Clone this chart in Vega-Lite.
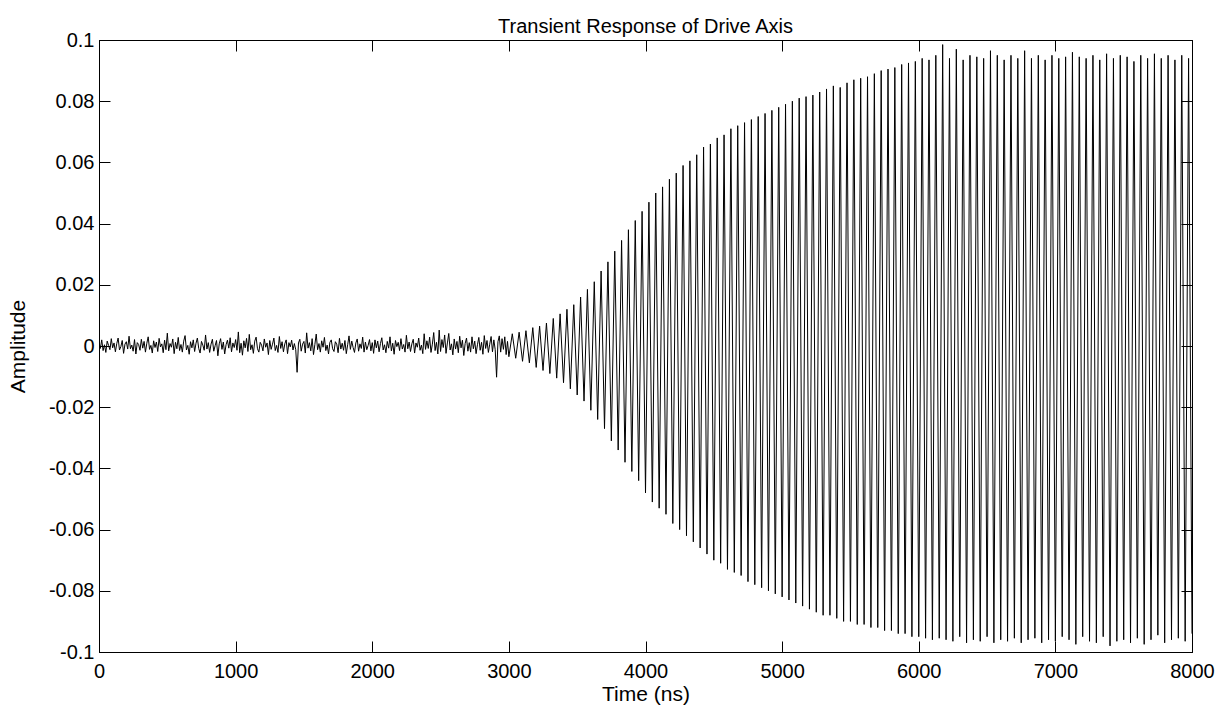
{
  "$schema": "https://vega.github.io/schema/vega-lite/v6.json",
  "width": 1093,
  "height": 612,
  "autosize": {"type": "none"},
  "padding": {"left": 99, "top": 40, "right": 40, "bottom": 56},
  "background": "white",
  "title": {"text": "Transient Response of Drive Axis", "font": "Liberation Sans", "fontSize": 20, "fontWeight": "normal", "color": "black", "anchor": "middle", "baseline": "middle", "offset": 0, "dy": 17},
  "config": {
    "view": {"stroke": "black", "strokeWidth": 1},
    "axis": {"domainColor": "black", "tickColor": "black", "labelColor": "black", "titleColor": "black", "labelFont": "Liberation Sans", "titleFont": "Liberation Sans", "labelFontSize": 20, "titleFontSize": 21, "titleFontWeight": "normal", "grid": false, "tickSize": -11, "domainWidth": 1, "tickWidth": 1}
  },
  "datasets": {
    "noise": [
      {"t":0,"a":0.0012},{"t":10,"a":-0.0008},{"t":20,"a":0.002},{"t":30,"a":-0.0015},{"t":40,"a":0.0004},{"t":50,"a":-0.0021},{"t":60,"a":0.0016},{"t":70,"a":0.0002},{"t":80,"a":-0.0012},{"t":90,"a":0.0024},
      {"t":100,"a":-0.0006},{"t":110,"a":0.001},{"t":120,"a":-0.0019},{"t":130,"a":0.0008},{"t":140,"a":0.0026},{"t":150,"a":-0.0013},{"t":160,"a":-0.0002},{"t":170,"a":0.0018},{"t":180,"a":-0.0024},{"t":190,"a":0.0006},
      {"t":200,"a":0.0014},{"t":210,"a":-0.001},{"t":220,"a":0.0032},{"t":230,"a":-0.0009},{"t":240,"a":0.0003},{"t":250,"a":-0.0017},{"t":260,"a":0.0021},{"t":270,"a":-0.0026},{"t":280,"a":0.0011},{"t":290,"a":0.0005},
      {"t":300,"a":-0.0014},{"t":310,"a":0.0022},{"t":320,"a":-0.0007},{"t":330,"a":0.0015},{"t":340,"a":-0.002},{"t":350,"a":0.0009},{"t":360,"a":0.003},{"t":370,"a":-0.0011},{"t":380,"a":0.0002},{"t":390,"a":-0.0023},
      {"t":400,"a":0.0017},{"t":410,"a":-0.0005},{"t":420,"a":0.0013},{"t":430,"a":-0.0018},{"t":440,"a":0.0025},{"t":450,"a":-0.0003},{"t":460,"a":0.0007},{"t":470,"a":-0.0022},{"t":480,"a":0.0019},{"t":490,"a":-0.0012},
      {"t":500,"a":0.0042},{"t":510,"a":-0.0016},{"t":520,"a":0.0008},{"t":530,"a":-0.0004},{"t":540,"a":0.0023},{"t":550,"a":-0.0025},{"t":560,"a":0.0012},{"t":570,"a":-0.0009},{"t":580,"a":0.0028},{"t":590,"a":-0.0015},
      {"t":600,"a":0.0005},{"t":610,"a":-0.002},{"t":620,"a":0.0016},{"t":630,"a":0.0034},{"t":640,"a":-0.0013},{"t":650,"a":0.0002},{"t":660,"a":-0.0027},{"t":670,"a":0.0014},{"t":680,"a":-0.0006},{"t":690,"a":0.002},
      {"t":700,"a":-0.0018},{"t":710,"a":0.0009},{"t":720,"a":0.0026},{"t":730,"a":-0.0008},{"t":740,"a":-0.0023},{"t":750,"a":0.0015},{"t":760,"a":0.0003},{"t":770,"a":-0.0014},{"t":780,"a":0.0036},{"t":790,"a":-0.001},
      {"t":800,"a":0.0011},{"t":810,"a":-0.0021},{"t":820,"a":0.0006},{"t":830,"a":0.0022},{"t":840,"a":-0.0017},{"t":850,"a":0.0001},{"t":860,"a":0.0018},{"t":870,"a":-0.0032},{"t":880,"a":0.0007},{"t":890,"a":0.0024},
      {"t":900,"a":-0.0011},{"t":910,"a":0.0013},{"t":920,"a":-0.0026},{"t":930,"a":0.0004},{"t":940,"a":0.0019},{"t":950,"a":-0.0007},{"t":960,"a":0.0027},{"t":970,"a":-0.0019},{"t":980,"a":0.001},{"t":990,"a":-0.0005},
      {"t":1000,"a":0.0021},{"t":1010,"a":-0.0014},{"t":1020,"a":0.0046},{"t":1030,"a":-0.0022},{"t":1040,"a":0.0009},{"t":1050,"a":-0.003},{"t":1060,"a":0.0017},{"t":1070,"a":-0.0006},{"t":1080,"a":0.0025},{"t":1090,"a":-0.0018},
      {"t":1100,"a":0.0038},{"t":1110,"a":-0.0012},{"t":1120,"a":0.0004},{"t":1130,"a":-0.0024},{"t":1140,"a":0.0016},{"t":1150,"a":0.0029},{"t":1160,"a":-0.0009},{"t":1170,"a":-0.002},{"t":1180,"a":0.0012},{"t":1190,"a":0.0003},
      {"t":1200,"a":-0.0016},{"t":1210,"a":0.0023},{"t":1220,"a":-0.0004},{"t":1230,"a":0.001},{"t":1240,"a":-0.0028},{"t":1250,"a":0.0018},{"t":1260,"a":-0.0011},{"t":1270,"a":0.0006},{"t":1280,"a":0.0026},{"t":1290,"a":-0.0015},
      {"t":1300,"a":0.0002},{"t":1310,"a":-0.0021},{"t":1320,"a":0.0031},{"t":1330,"a":-0.0008},{"t":1340,"a":0.0014},{"t":1350,"a":-0.0019},{"t":1360,"a":0.0007},{"t":1370,"a":0.002},{"t":1380,"a":-0.0025},{"t":1390,"a":0.0011},
      {"t":1400,"a":-0.0003},{"t":1410,"a":0.0019},{"t":1420,"a":-0.0013},{"t":1430,"a":0.0008},{"t":1440,"a":-0.0012},{"t":1450,"a":-0.0086},{"t":1460,"a":0.001},{"t":1470,"a":0.0022},{"t":1480,"a":-0.0017},{"t":1490,"a":0.0006},
      {"t":1500,"a":0.0015},{"t":1510,"a":-0.0023},{"t":1520,"a":0.0043},{"t":1530,"a":-0.0007},{"t":1540,"a":0.0011},{"t":1550,"a":-0.0016},{"t":1560,"a":0.0024},{"t":1570,"a":-0.0028},{"t":1580,"a":0.0005},{"t":1590,"a":0.0039},
      {"t":1600,"a":-0.0012},{"t":1610,"a":0.0008},{"t":1620,"a":-0.002},{"t":1630,"a":0.0017},{"t":1640,"a":-0.0004},{"t":1650,"a":0.0028},{"t":1660,"a":-0.0015},{"t":1670,"a":0.0003},{"t":1680,"a":-0.0026},{"t":1690,"a":0.0012},
      {"t":1700,"a":0.002},{"t":1710,"a":-0.0009},{"t":1720,"a":-0.0018},{"t":1730,"a":0.0014},{"t":1740,"a":0.0006},{"t":1750,"a":-0.0022},{"t":1760,"a":0.0025},{"t":1770,"a":-0.001},{"t":1780,"a":0.0009},{"t":1790,"a":-0.0014},
      {"t":1800,"a":0.0018},{"t":1810,"a":-0.0025},{"t":1820,"a":0.0004},{"t":1830,"a":0.0033},{"t":1840,"a":-0.0011},{"t":1850,"a":0.0016},{"t":1860,"a":-0.0005},{"t":1870,"a":-0.0021},{"t":1880,"a":0.001},{"t":1890,"a":0.0023},
      {"t":1900,"a":-0.0017},{"t":1910,"a":0.0007},{"t":1920,"a":-0.0008},{"t":1930,"a":0.0029},{"t":1940,"a":-0.002},{"t":1950,"a":0.0013},{"t":1960,"a":-0.0012},{"t":1970,"a":0.0002},{"t":1980,"a":0.0021},{"t":1990,"a":-0.0016},
      {"t":2000,"a":0.0011},{"t":2010,"a":-0.0024},{"t":2020,"a":0.002},{"t":2030,"a":-0.0006},{"t":2040,"a":0.0016},{"t":2050,"a":-0.0019},{"t":2060,"a":0.0008},{"t":2070,"a":0.0027},{"t":2080,"a":-0.0013},{"t":2090,"a":0.0004},
      {"t":2100,"a":-0.0022},{"t":2110,"a":0.0015},{"t":2120,"a":-0.0007},{"t":2130,"a":0.003},{"t":2140,"a":-0.0016},{"t":2150,"a":0.0009},{"t":2160,"a":-0.0027},{"t":2170,"a":0.0018},{"t":2180,"a":-0.0002},{"t":2190,"a":0.0012},
      {"t":2200,"a":-0.0015},{"t":2210,"a":0.0024},{"t":2220,"a":-0.001},{"t":2230,"a":0.0005},{"t":2240,"a":-0.002},{"t":2250,"a":0.0035},{"t":2260,"a":-0.0009},{"t":2270,"a":0.0013},{"t":2280,"a":-0.0018},{"t":2290,"a":0.0007},
      {"t":2300,"a":0.0022},{"t":2310,"a":-0.0023},{"t":2320,"a":0.001},{"t":2330,"a":-0.0004},{"t":2340,"a":0.0026},{"t":2350,"a":-0.0014},{"t":2360,"a":0.0003},{"t":2370,"a":-0.0025},{"t":2380,"a":0.004},{"t":2390,"a":-0.0011},
      {"t":2400,"a":0.0017},{"t":2410,"a":-0.0008},{"t":2420,"a":0.0029},{"t":2430,"a":-0.0021},{"t":2440,"a":0.0006},{"t":2450,"a":0.0044},{"t":2460,"a":-0.0015},{"t":2470,"a":0.0012},{"t":2480,"a":-0.0026},{"t":2490,"a":0.0052},
      {"t":2500,"a":-0.0018},{"t":2510,"a":0.0021},{"t":2520,"a":-0.0005},{"t":2530,"a":0.0036},{"t":2540,"a":-0.0024},{"t":2550,"a":0.001},{"t":2560,"a":0.0041},{"t":2570,"a":-0.0013},{"t":2580,"a":0.0007},{"t":2590,"a":-0.0029},
      {"t":2600,"a":0.0023},{"t":2610,"a":-0.001},{"t":2620,"a":0.0015},{"t":2630,"a":-0.0022},{"t":2640,"a":0.0032},{"t":2650,"a":-0.0006},{"t":2660,"a":0.0019},{"t":2670,"a":-0.0031},{"t":2680,"a":0.0008},{"t":2690,"a":0.0026},
      {"t":2700,"a":-0.0017},{"t":2710,"a":0.0011},{"t":2720,"a":-0.002},{"t":2730,"a":0.003},{"t":2740,"a":-0.0009},{"t":2750,"a":0.0016},{"t":2760,"a":-0.0025},{"t":2770,"a":0.0004},{"t":2780,"a":0.0028},{"t":2790,"a":-0.0014},
      {"t":2800,"a":0.0012},{"t":2810,"a":-0.0027},{"t":2820,"a":0.0034},{"t":2830,"a":-0.0008},{"t":2840,"a":0.0018},{"t":2850,"a":-0.0021},{"t":2860,"a":0.0006},{"t":2870,"a":0.0031},{"t":2880,"a":-0.0019},{"t":2890,"a":0.002},
      {"t":2900,"a":-0.0012},{"t":2910,"a":-0.0102},{"t":2920,"a":0.0014},{"t":2930,"a":0.0033},{"t":2940,"a":-0.002},{"t":2950,"a":0.0024},{"t":2960,"a":-0.0011},{"t":2970,"a":0.003},{"t":2980,"a":-0.0028},{"t":2990,"a":0.0015}
    ],
    "osc": [
      {"t":2990,"a":0.0015},
      {"t":3000,"a":-0.0035},{"t":3025,"a":0.004},{"t":3050,"a":-0.004},{"t":3075,"a":0.0045},{"t":3100,"a":-0.005},{"t":3125,"a":0.005},{"t":3150,"a":-0.0055},{"t":3175,"a":0.006},
      {"t":3200,"a":-0.007},{"t":3225,"a":0.0065},{"t":3250,"a":-0.008},{"t":3275,"a":0.0075},{"t":3300,"a":-0.009},{"t":3325,"a":0.009},{"t":3350,"a":-0.0105},{"t":3375,"a":0.0105},
      {"t":3400,"a":-0.012},{"t":3425,"a":0.012},{"t":3450,"a":-0.014},{"t":3475,"a":0.0135},{"t":3500,"a":-0.016},{"t":3525,"a":0.016},{"t":3550,"a":-0.018},{"t":3575,"a":0.0185},
      {"t":3600,"a":-0.021},{"t":3625,"a":0.021},{"t":3650,"a":-0.024},{"t":3675,"a":0.0245},{"t":3700,"a":-0.027},{"t":3725,"a":0.0275},{"t":3750,"a":-0.031},{"t":3775,"a":0.031},
      {"t":3800,"a":-0.034},{"t":3825,"a":0.0345},{"t":3850,"a":-0.038},{"t":3875,"a":0.038},{"t":3900,"a":-0.041},{"t":3925,"a":0.041},{"t":3950,"a":-0.044},{"t":3975,"a":0.044},
      {"t":4000,"a":-0.048},{"t":4025,"a":0.047},{"t":4050,"a":-0.051},{"t":4075,"a":0.05},{"t":4100,"a":-0.053},{"t":4125,"a":0.052},{"t":4150,"a":-0.055},{"t":4175,"a":0.0545},
      {"t":4200,"a":-0.058},{"t":4225,"a":0.0565},{"t":4250,"a":-0.06},{"t":4275,"a":0.059},{"t":4300,"a":-0.062},{"t":4325,"a":0.0605},{"t":4350,"a":-0.064},{"t":4375,"a":0.0625},
      {"t":4400,"a":-0.066},{"t":4425,"a":0.065},{"t":4450,"a":-0.068},{"t":4475,"a":0.066},{"t":4500,"a":-0.07},{"t":4525,"a":0.068},{"t":4550,"a":-0.071},{"t":4575,"a":0.069},
      {"t":4600,"a":-0.073},{"t":4625,"a":0.071},{"t":4650,"a":-0.074},{"t":4675,"a":0.072},{"t":4700,"a":-0.075},{"t":4725,"a":0.073},{"t":4750,"a":-0.077},{"t":4775,"a":0.074},
      {"t":4800,"a":-0.078},{"t":4825,"a":0.075},{"t":4850,"a":-0.079},{"t":4875,"a":0.076},{"t":4900,"a":-0.08},{"t":4925,"a":0.077},{"t":4950,"a":-0.081},{"t":4975,"a":0.078},
      {"t":5000,"a":-0.082},{"t":5025,"a":0.079},{"t":5050,"a":-0.083},{"t":5075,"a":0.08},{"t":5100,"a":-0.084},{"t":5125,"a":0.081},{"t":5150,"a":-0.085},{"t":5175,"a":0.0815},
      {"t":5200,"a":-0.086},{"t":5225,"a":0.082},{"t":5250,"a":-0.087},{"t":5275,"a":0.083},{"t":5300,"a":-0.088},{"t":5325,"a":0.084},{"t":5350,"a":-0.088},{"t":5375,"a":0.085},
      {"t":5400,"a":-0.089},{"t":5425,"a":0.0845},{"t":5450,"a":-0.09},{"t":5475,"a":0.086},{"t":5500,"a":-0.09},{"t":5525,"a":0.087},{"t":5550,"a":-0.091},{"t":5575,"a":0.0875},
      {"t":5600,"a":-0.091},{"t":5625,"a":0.088},{"t":5650,"a":-0.092},{"t":5675,"a":0.089},{"t":5700,"a":-0.092},{"t":5725,"a":0.09},{"t":5750,"a":-0.093},{"t":5775,"a":0.0905},
      {"t":5800,"a":-0.093},{"t":5825,"a":0.091},{"t":5850,"a":-0.094},{"t":5875,"a":0.092},{"t":5900,"a":-0.094},{"t":5925,"a":0.0925},{"t":5950,"a":-0.095},{"t":5975,"a":0.093},
      {"t":6000,"a":-0.095},{"t":6025,"a":0.094},{"t":6050,"a":-0.0955},{"t":6075,"a":0.0935},{"t":6100,"a":-0.096},{"t":6125,"a":0.095},{"t":6150,"a":-0.0955},{"t":6175,"a":0.0985},
      {"t":6200,"a":-0.096},{"t":6225,"a":0.094},{"t":6250,"a":-0.0965},{"t":6275,"a":0.097},{"t":6300,"a":-0.095},{"t":6325,"a":0.0935},{"t":6350,"a":-0.097},{"t":6375,"a":0.095},
      {"t":6400,"a":-0.096},{"t":6425,"a":0.0945},{"t":6450,"a":-0.0965},{"t":6475,"a":0.094},{"t":6500,"a":-0.095},{"t":6525,"a":0.0965},{"t":6550,"a":-0.097},{"t":6575,"a":0.095},
      {"t":6600,"a":-0.096},{"t":6625,"a":0.0935},{"t":6650,"a":-0.0965},{"t":6675,"a":0.095},{"t":6700,"a":-0.0955},{"t":6725,"a":0.094},{"t":6750,"a":-0.097},{"t":6775,"a":0.0965},
      {"t":6800,"a":-0.096},{"t":6825,"a":0.094},{"t":6850,"a":-0.0955},{"t":6875,"a":0.095},{"t":6900,"a":-0.097},{"t":6925,"a":0.0935},{"t":6950,"a":-0.096},{"t":6975,"a":0.095},
      {"t":7000,"a":-0.0965},{"t":7025,"a":0.094},{"t":7050,"a":-0.095},{"t":7075,"a":0.0945},{"t":7100,"a":-0.096},{"t":7125,"a":0.096},{"t":7150,"a":-0.0975},{"t":7175,"a":0.0945},
      {"t":7200,"a":-0.095},{"t":7225,"a":0.094},{"t":7250,"a":-0.0965},{"t":7275,"a":0.095},{"t":7300,"a":-0.097},{"t":7325,"a":0.0935},{"t":7350,"a":-0.095},{"t":7375,"a":0.0955},
      {"t":7400,"a":-0.098},{"t":7425,"a":0.094},{"t":7450,"a":-0.0965},{"t":7475,"a":0.095},{"t":7500,"a":-0.096},{"t":7525,"a":0.0945},{"t":7550,"a":-0.097},{"t":7575,"a":0.093},
      {"t":7600,"a":-0.0955},{"t":7625,"a":0.095},{"t":7650,"a":-0.0975},{"t":7675,"a":0.094},{"t":7700,"a":-0.096},{"t":7725,"a":0.0955},{"t":7750,"a":-0.0945},{"t":7775,"a":0.094},
      {"t":7800,"a":-0.097},{"t":7825,"a":0.095},{"t":7850,"a":-0.096},{"t":7875,"a":0.0935},{"t":7900,"a":-0.0955},{"t":7925,"a":0.095},{"t":7950,"a":-0.0965},{"t":7975,"a":0.094},{"t":8000,"a":-0.094}
    ]
  },
  "layer": [
    {
      "data": {"name": "noise"},
      "mark": {"type": "line", "color": "black", "strokeWidth": 1, "clip": true},
      "encoding": {
        "x": {"field": "t", "type": "quantitative", "scale": {"domain": [0, 8000], "nice": false, "zero": false},
              "axis": {"orient": "bottom", "values": [0,1000,2000,3000,4000,5000,6000,7000,8000], "format": "d", "labelPadding": 20, "labelFlush": false, "labelOverlap": false, "title": "Time (ns)", "titleBaseline": "middle", "titleY": 42, "titlePadding": 0}},
        "y": {"field": "a", "type": "quantitative", "scale": {"domain": [-0.1, 0.1], "nice": false, "zero": false},
              "axis": {"orient": "left", "values": [-0.1,-0.08,-0.06,-0.04,-0.02,0,0.02,0.04,0.06,0.08,0.1], "labelExpr": "'' + round(datum.value*100)/100", "labelPadding": 16, "labelFlush": false, "labelOverlap": false, "title": "Amplitude", "titleX": -81, "titleY": 306, "titleAngle": -90, "titleBaseline": "middle", "titleAlign": "center"}}
      }
    },
    {
      "data": {"name": "osc"},
      "mark": {"type": "line", "color": "black", "strokeWidth": 1, "clip": true},
      "encoding": {
        "x": {"field": "t", "type": "quantitative", "axis": {"orient": "top", "values": [0,1000,2000,3000,4000,5000,6000,7000,8000], "labels": false, "title": null, "minExtent": 0, "maxExtent": 0}},
        "y": {"field": "a", "type": "quantitative", "axis": {"orient": "right", "values": [-0.1,-0.08,-0.06,-0.04,-0.02,0,0.02,0.04,0.06,0.08,0.1], "labels": false, "title": null, "minExtent": 0, "maxExtent": 0}}
      }
    }
  ],
  "resolve": {"axis": {"x": "independent", "y": "independent"}}
}
